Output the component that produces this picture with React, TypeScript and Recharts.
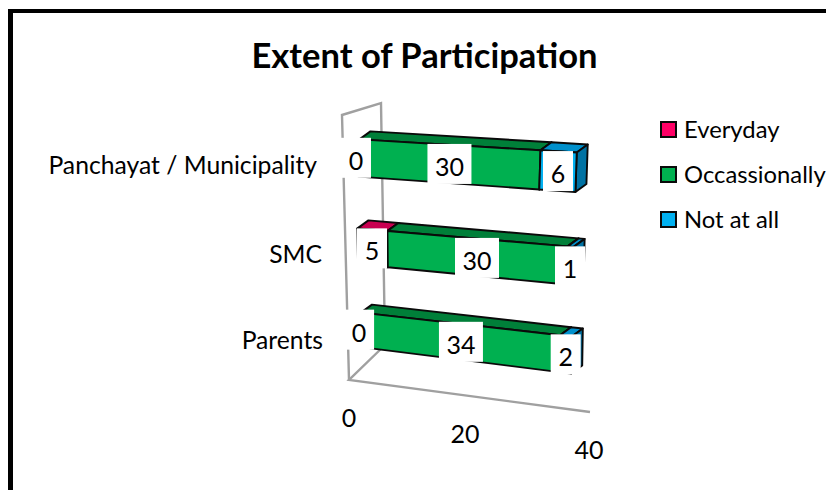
import React from "react";
import { BarChart, Bar, XAxis, YAxis, Legend, LabelList, Customized } from "recharts";

const categories = ["Panchayat / Municipality", "SMC", "Parents"];
const everyday = [0, 5, 0];
const occassionally = [30, 30, 34];
const notAtAll = [6, 1, 2];
const xTicks = [0, 20, 40];
const seriesNames = ["Everyday", "Occassionally", "Not at all"];
const frontColors = ["#FF0066", "#00B050", "#00B0F0"];
const topColors = ["#C80050", "#007F39", "#0090CC"];
const sideColors = ["#A00040", "#00662E", "#0072A3"];

const rows = categories.map((name, i) => ({
  name,
  everyday: everyday[i],
  occassionally: occassionally[i],
  notAtAll: notAtAll[i],
}));

const FONT = "Lato, 'Open Sans', sans-serif";
const LEFT = 359;
const DEPTH = [11, -8];
const ROWY = [158, 244, 330];
const lerpRows = (py: number, v: number[]) =>
  py <= ROWY[1]
    ? v[0] + ((py - ROWY[0]) / 86) * (v[1] - v[0])
    : v[1] + ((py - ROWY[1]) / 86) * (v[2] - v[1]);

// Projects a flat plot position on to the tilted 3D plane of the reference.
const warp = (px: number, py: number): [number, number] => {
  const sx = lerpRows(py, [0, -2, 3]);
  const sc = lerpRows(py, [1.005, 1, 0.97]);
  const sy = lerpRows(py, [0, 3, 0]);
  const slope = 0.066 + (py - 158) * 0.00029;
  return [LEFT + sx + (px - LEFT) * sc, py + sy + slope * (px - LEFT)];
};

const pts = (a: number[][]) => a.map((p) => p.join(",")).join(" ");

const Box3D = (props: any) => {
  const { x, y, width, height, seriesIndex } = props;
  if (!width || width <= 0) return null;
  const a = warp(x, y);
  const b = warp(x + width, y);
  const c = warp(x + width, y + height);
  const d = warp(x, y + height);
  const off = (p: number[]) => [p[0] + DEPTH[0], p[1] + DEPTH[1]];
  const common = { stroke: "#0a0a0a", strokeWidth: 1.9, strokeLinejoin: "round" as const };
  return (
    <g>
      <polygon points={pts([a, b, off(b), off(a)])} fill={topColors[seriesIndex]} {...common} />
      <polygon points={pts([b, c, off(c), off(b)])} fill={sideColors[seriesIndex]} {...common} />
      <polygon points={pts([a, b, c, d])} fill={frontColors[seriesIndex]} {...common} />
    </g>
  );
};

const ValueBox = (props: any) => {
  const { x, y, width, height, value } = props;
  const zero = Number(value) === 0;
  const [cx, cy] = warp(x + width / 2 - (zero ? 3 : 0), y + height / 2);
  const w = String(value).length > 1 ? 44 : 30;
  return (
    <g>
      <rect x={cx - w / 2} y={cy - 20} width={w} height={40} fill="#fff" />
      <text x={cx} y={cy + 2} textAnchor="middle" dominantBaseline="central" fontFamily={FONT} fontSize={25} fill="#000">
        {value}
      </text>
    </g>
  );
};

const yDx = [42, 37, 36];
const yDy = [6, 9, 9];
const CategoryTick = (props: any) => {
  const { y, index, payload } = props;
  return (
    <text x={LEFT - yDx[index]} y={y + yDy[index]} textAnchor="end" dominantBaseline="central" fontFamily={FONT} fontSize={24.7} fill="#000">
      {payload.value}
    </text>
  );
};

const xDx = [-10, -14, -10];
const XTick = (props: any) => {
  const { x, index, payload } = props;
  return (
    <text x={x + xDx[index]} y={417 + (x - LEFT) * 0.133} textAnchor="middle" dominantBaseline="central" fontFamily={FONT} fontSize={25} fill="#000">
      {payload.value}
    </text>
  );
};

const Frame = () => {
  const g = { stroke: "#A0A0A0", strokeWidth: 2.4, fill: "none" };
  return (
    <g>
      <text x={424.5} y={54} textAnchor="middle" dominantBaseline="central" fontFamily={FONT} fontWeight={700} fontSize={34.5} fill="#000">
        Extent of Participation
      </text>
      <polyline points="349,380 342,115 381,103 385,345" {...g} />
      <polyline points="385,345 349,380 590,412" {...g} />
    </g>
  );
};

const LegendBox = (props: any) => {
  const items = seriesNames
    .map((n) => (props.payload || []).find((p: any) => p.value === n))
    .filter(Boolean);
  return (
    <div style={{ fontFamily: FONT, fontSize: 23.8, color: "#000" }}>
      {items.map((p: any, i: number) => (
        <div key={p.value} style={{ position: "absolute", left: 0, top: 45 * i, height: 20, display: "flex", alignItems: "center", whiteSpace: "nowrap" }}>
          <span style={{ width: 13, height: 13, background: p.color, border: "2px solid #0a0a0a", marginRight: 7, display: "inline-block" }} />
          {p.value}
        </div>
      ))}
    </div>
  );
};

const keys = ["everyday", "occassionally", "notAtAll"];

export default function App() {
  return (
    <div style={{ position: "absolute", left: 0, top: 0, width: 826, height: 490, overflow: "hidden", background: "#fff" }}>
      <div style={{ position: "absolute", left: 8, top: 9, width: 900, height: 600, borderLeft: "5px solid #000", borderTop: "4px solid #000" }} />
      <div style={{ position: "absolute", left: 0, top: 0 }}>
        <BarChart
          width={826}
          height={490}
          data={rows}
          layout="vertical"
          barSize={36}
          margin={{ top: 115, right: 227, bottom: 87, left: 59 }}
          style={{ background: "transparent" }}
        >
          <Customized component={Frame} />
          <XAxis type="number" domain={[0, 40]} ticks={xTicks} axisLine={false} tickLine={false} height={30} tick={<XTick />} interval={0} />
          <YAxis type="category" dataKey="name" width={300} axisLine={false} tickLine={false} tick={<CategoryTick />} interval={0} />
          <XAxis xAxisId="lab" type="number" domain={[0, 40]} hide />
          <YAxis yAxisId="lab" type="category" dataKey="name" hide />
          {keys.map((k, i) => (
            <Bar key={k} dataKey={k} name={seriesNames[i]} stackId="a" fill={frontColors[i]} isAnimationActive={false} shape={(p: any) => <Box3D {...p} seriesIndex={i} />} />
          ))}
          {keys.map((k) => (
            <Bar key={k + "-lab"} dataKey={k} xAxisId="lab" yAxisId="lab" stackId="lab" fill="none" legendType="none" isAnimationActive={false} shape={() => <g />}>
              <LabelList dataKey={k} content={<ValueBox />} />
            </Bar>
          ))}
          <Legend content={<LegendBox />} wrapperStyle={{ position: "absolute", left: 660, top: 119, width: 166, height: 0, bottom: "auto", right: "auto" }} />
        </BarChart>
      </div>
    </div>
  );
}
